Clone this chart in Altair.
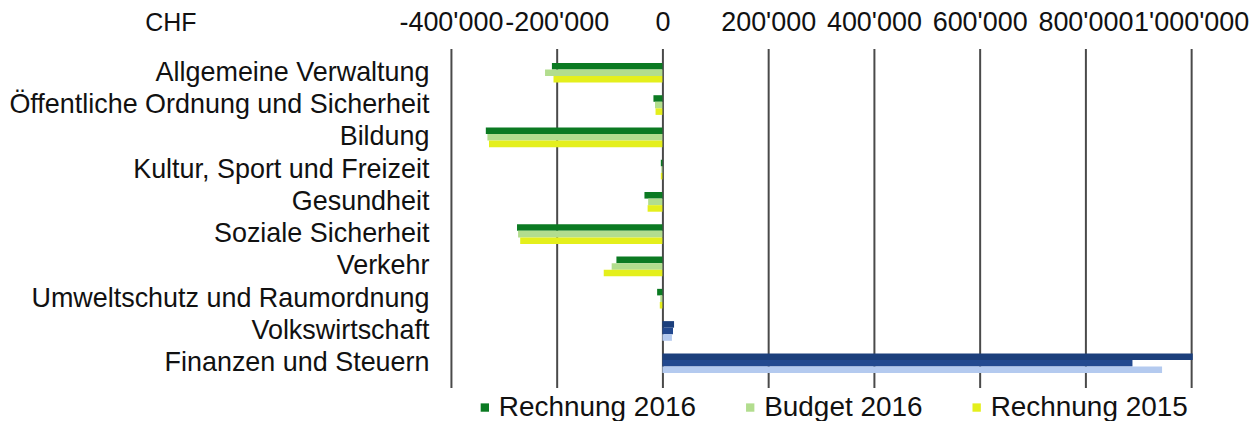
import altair as alt
import pandas as pd

categories = ["Allgemeine Verwaltung", "Öffentliche Ordnung und Sicherheit", "Bildung",
              "Kultur, Sport und Freizeit", "Gesundheit", "Soziale Sicherheit", "Verkehr",
              "Umweltschutz und Raumordnung", "Volkswirtschaft", "Finanzen und Steuern"]
series = ["Rechnung 2016", "Budget 2016", "Rechnung 2015"]
rechnung_2016 = [-209000, -17000, -334000, -3000, -34000, -275000, -87000, -10000, 22000, 1003000]
budget_2016 = [-222000, -14000, -331000, -2000, -27000, -273000, -96000, -4000, 20000, 889000]
rechnung_2015 = [-206000, -13000, -328000, -3000, -28000, -269000, -111000, -5000, 18000, 945000]
green_colors = ["#0b7a22", "#b2dd8e", "#e4ef1c"]
blue_colors = ["#1c3f7c", "#23498f", "#b4caef"]

rows = []
for vals, s in zip([rechnung_2016, budget_2016, rechnung_2015], series):
    for c, v in zip(categories, vals):
        key = s if v < 0 else s + " +"
        rows.append({"Kategorie": c, "Serie": s, "Wert": v, "Farbe": key})
df = pd.DataFrame(rows)

color_domain = series + [s + " +" for s in series]
color_range = green_colors + blue_colors

label_expr = ("replace(replace(replace(format(datum.value, ','), ',', \"'\"), ',', \"'\"), '\u2212', '-')")

chart = alt.Chart(df).mark_bar().encode(
    x=alt.X("Wert:Q",
            scale=alt.Scale(domain=[-400000, 1000000], nice=False, zero=False),
            axis=alt.Axis(orient="top", values=[-400000, -200000, 0, 200000, 400000, 600000, 800000, 1000000],
                          labelExpr=label_expr, title=None, ticks=False, domain=False,
                          grid=True, gridColor="#4a4a4a", gridWidth=2,
                          labelFont="Liberation Sans", labelFontSize=27, labelColor="#111",
                          labelPadding=12, labelFlush=False, labelOverlap=False)),
    y=alt.Y("Kategorie:N", sort=categories,
            scale=alt.Scale(paddingInner=0.39, paddingOuter=0.45),
            axis=alt.Axis(title="CHF", titleAngle=0, titleAlign="left", titleBaseline="middle",
                          titleX=-307, titleY=-26, titleFont="Liberation Sans", titleFontSize=25,
                          titleFontWeight="normal", titleColor="#111",
                          ticks=False, domain=False, labelPadding=22, labelLimit=0,
                          labelFont="Liberation Sans", labelFontSize=27, labelColor="#111")),
    yOffset=alt.YOffset("Serie:N", sort=series, scale=alt.Scale(paddingInner=0, paddingOuter=0)),
    color=alt.Color("Farbe:N", scale=alt.Scale(domain=color_domain, range=color_range),
                    legend=alt.Legend(values=series, title=None, orient="none", direction="horizontal",
                                      legendX=20, legendY=346, symbolType="square", symbolSize=70,
                                      symbolStrokeWidth=0, labelFont="Liberation Sans", labelFontSize=28,
                                      labelColor="#111", labelLimit=0, columnPadding=40,
                                      gridAlign="none", labelOffset=0, padding=0)),
).properties(
    width=742, height=340,
    autosize=alt.AutoSizeParams(type="none"),
    padding={"left": 444, "top": 40, "right": 60, "bottom": 45},
).configure_view(stroke=None)

chart.save("out.html", embed_options={"renderer": "svg", "actions": False})
